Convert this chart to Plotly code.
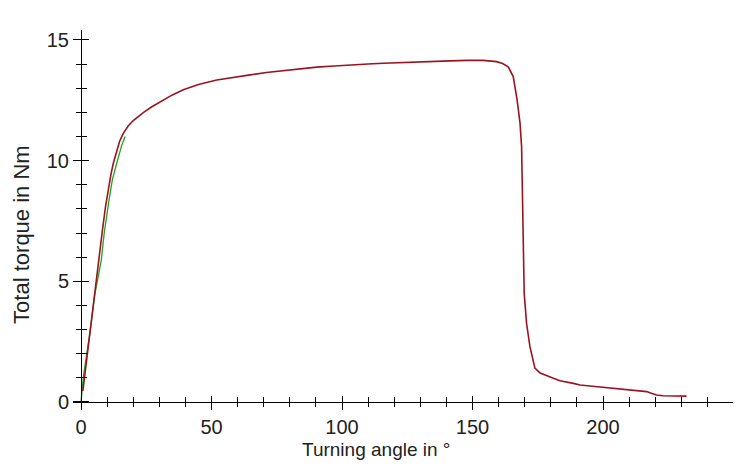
import plotly.graph_objects as go

# Measured torque curve (red)
red_angle = [0.7, 0.9, 2.8, 4.7, 6.0, 7.2, 8.3, 9.4, 10.5, 11.5, 12.4, 13.7, 14.8, 16.2, 18.0, 20.0,
             22.0, 24.0, 27.0, 31.5, 35.0, 39.2, 45.0, 52.0, 58.0, 64.8, 71.0, 77.5, 84.0, 90.3,
             97.0, 103.0, 110.0, 115.8, 122.0, 128.6, 135.0, 141.4, 148.0, 154.1, 159.2, 161.5,
             163.7, 165.6, 167.1, 168.2, 168.8, 169.2, 169.4, 169.8, 170.7, 172.0, 173.9, 175.9,
             181.0, 183.5, 188.6, 191.2, 196.0, 201.4, 206.0, 211.6, 216.7, 218.5, 220.5, 223.0,
             226.9, 232.0]
red_torque = [0.45, 0.63, 2.43, 4.2, 5.3, 6.3, 7.2, 8.1, 8.92, 9.45, 9.9, 10.44, 10.8, 11.13, 11.42, 11.66,
              11.85, 12.0, 12.22, 12.5, 12.72, 12.93, 13.15, 13.34, 13.45, 13.55, 13.65, 13.73, 13.8, 13.87,
              13.92, 13.97, 14.0, 14.03, 14.06, 14.09, 14.11, 14.13, 14.15, 14.15, 14.1, 14.02,
              13.88, 13.48, 12.5, 11.55, 10.58, 8.5, 6.44, 4.5, 3.26, 2.29, 1.4, 1.2,
              0.98, 0.88, 0.77, 0.70, 0.65, 0.59, 0.55, 0.5, 0.43, 0.36, 0.29, 0.26,
              0.25, 0.24]

# Initial slope reference (green)
green_angle = [0.0, 0.9, 3.4, 5.2, 7.8, 8.9, 10.5, 12.0, 13.7, 15.5, 16.9]
green_torque = [0.0, 1.05, 2.85, 4.4, 5.9, 7.0, 8.2, 9.2, 9.9, 10.6, 11.0]

x_ticks = [0, 50, 100, 150, 200]
y_ticks = [0, 5, 10, 15]
x_title = "Turning angle in °"
y_title = "Total torque in Nm"

x_range = [-3.07, 249.8]
y_range = [-0.25, 15.41]
x_axis_pos = (0 - y_range[0]) / (y_range[1] - y_range[0])
y_axis_pos = (0 - x_range[0]) / (x_range[1] - x_range[0])

fig = go.Figure()
fig.add_trace(go.Scatter(x=green_angle, y=green_torque, mode="lines",
                         line=dict(color="#22A022", width=1.3), showlegend=False))
fig.add_trace(go.Scatter(x=red_angle, y=red_torque, mode="lines",
                         line=dict(color="#9A1420", width=1.6), showlegend=False))
# dummy trace for overlay tick axes
fig.add_trace(go.Scatter(x=[None], y=[None], xaxis="x2", yaxis="y2", showlegend=False,
                         hoverinfo="skip"))

family = "Liberation Sans, Arial, sans-serif"
tick_font = dict(family=family, size=20, color="#222222")

common_x = dict(range=x_range, showgrid=False, zeroline=False, showline=True,
                linecolor="black", linewidth=1, tickcolor="black", tickwidth=1.2,
                anchor="free", position=x_axis_pos)
common_y = dict(range=y_range, showgrid=False, zeroline=False, showline=True,
                linecolor="black", linewidth=1, tickcolor="black", tickwidth=1.2,
                anchor="free", position=y_axis_pos)

fig.update_layout(
    width=747, height=473,
    margin=dict(l=73, r=14, t=30, b=65),
    paper_bgcolor="white", plot_bgcolor="white",
    font=tick_font,
    xaxis=dict(**common_x, tickmode="array", tickvals=x_ticks, ticks="outside", ticklen=7,
               minor=dict(dtick=10, tick0=0, ticks="outside", ticklen=4.5, tickcolor="black", tickwidth=1.2),
               tickfont=tick_font),
    yaxis=dict(**common_y, tickmode="array", tickvals=y_ticks, ticks="outside", ticklen=8,
               minor=dict(dtick=1, tick0=0, ticks="outside", ticklen=5, tickcolor="black", tickwidth=1.2),
               tickfont=tick_font),
    xaxis2=dict(**common_x, overlaying="x", tickmode="array", tickvals=x_ticks, ticks="inside", ticklen=6,
                showticklabels=False,
                minor=dict(dtick=10, tick0=0, ticks="inside", ticklen=4.5, tickcolor="black", tickwidth=1.2)),
    yaxis2=dict(**common_y, overlaying="y", tickmode="array", tickvals=y_ticks, ticks="inside", ticklen=7,
                showticklabels=False,
                minor=dict(dtick=1, tick0=0, ticks="inside", ticklen=5, tickcolor="black", tickwidth=1.2)),
    annotations=[
        dict(text=x_title, xref="paper", yref="paper", x=0.459, y=0, yshift=-41,
             xanchor="center", yanchor="middle", showarrow=False,
             font=dict(family=family, size=19, color="#222222")),
        dict(text=y_title, xref="paper", yref="paper", x=0, xshift=-51, y=0.458,
             xanchor="center", yanchor="middle", textangle=-90, showarrow=False,
             font=dict(family=family, size=22, color="#222222")),
    ],
)

fig.write_html("out.html")
